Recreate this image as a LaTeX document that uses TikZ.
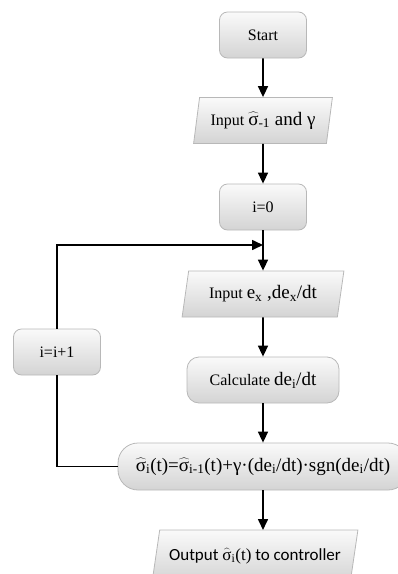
\documentclass[tikz,border=0pt]{standalone}
\usepackage{fontspec}
\setmainfont{Liberation Serif}
\newfontfamily\outfont{Carlito}
\usetikzlibrary{
    arrows.meta,
    shapes.geometric,
    calc
}
\newcommand{\sighat}{$\widehat{\hbox{σ}}$}
\newcommand{\bigtext}{\fontsize{19}{21}\selectfont}
\tikzset{
    % Colors
    box line/.style={draw=black!28,line width=0.8pt},
    box fill/.style={top color=black!2,bottom color=black!17},
    %
    % Nodes
    proc/.style={box line,box fill,rounded corners=8pt,minimum width=87pt,minimum height=46pt,inner sep=0pt},
    io/.style={trapezium,trapezium left angle=74,trapezium right angle=106,trapezium stretches=true,
        box line,box fill,minimum height=46pt,inner sep=0pt},
    %
    % Arrows
    arrow tip/.tip={Triangle[width=10pt,length=11pt]},
    flow/.style={line width=1.6pt},
    arr/.style={flow,->,>={arrow tip}},
}
\tikzstyle{every node}=[font=\fontsize{16}{18}\selectfont]

\begin{document}
\begin{tikzpicture}[x=1pt,y=-1pt]
    \useasboundingbox (0,0) rectangle (398,574);
    \node[proc] (Start) at (263,35) {Start};
    \node[io,minimum width=139pt] (Input sigma) at (263,120.5) {Input {\bigtext\sighat\textsubscript{-1} and γ}};
    \node[proc] (Init) at (263,207) {i=0};
    \node[io,minimum width=162pt] (Input e) at (263,294) {Input {\bigtext e\textsubscript{x} ,de\textsubscript{x}/dt}};
    \node[proc,rounded corners=12pt,minimum width=152pt] (Calc) at (263,380) {Calculate {\bigtext de\textsubscript{i}/dt}};
    \node[proc] (Increment) at (57,352) {i=i+1};
    \node[proc,rounded corners=20pt,minimum width=290pt,minimum height=47pt] (Update) at (263,466.5)
        {\bigtext\sighat\textsubscript{i}(t)=\sighat\textsubscript{i-1}(t)+γ·(de\textsubscript{i}/dt)·sgn(de\textsubscript{i}/dt)};
    \node[io,trapezium left angle=66,trapezium right angle=114,minimum width=206pt,minimum height=52pt] (Output) at (255,556)
        {\fontsize{17}{19}\selectfont{\outfont Output }\sighat\textsubscript{i}(t){\outfont{} to controller}};
    \coordinate (Join) at (263,245);
    \coordinate (Out top) at (263,530);
    %
    \draw[arr] (Start) -- (Input sigma);
    \draw[arr] (Input sigma) -- (Init);
    \draw[arr] (Init) -- (Input e);
    \draw[arr] (Input e) -- (Calc);
    \draw[arr] (Calc) -- (Update);
    \draw[arr] (Update) -- (Out top);
    \draw[flow] (Update.west) -| (Increment.south);
    \draw[arr] (Increment.north) |- (Join);
\end{tikzpicture}
\end{document}
